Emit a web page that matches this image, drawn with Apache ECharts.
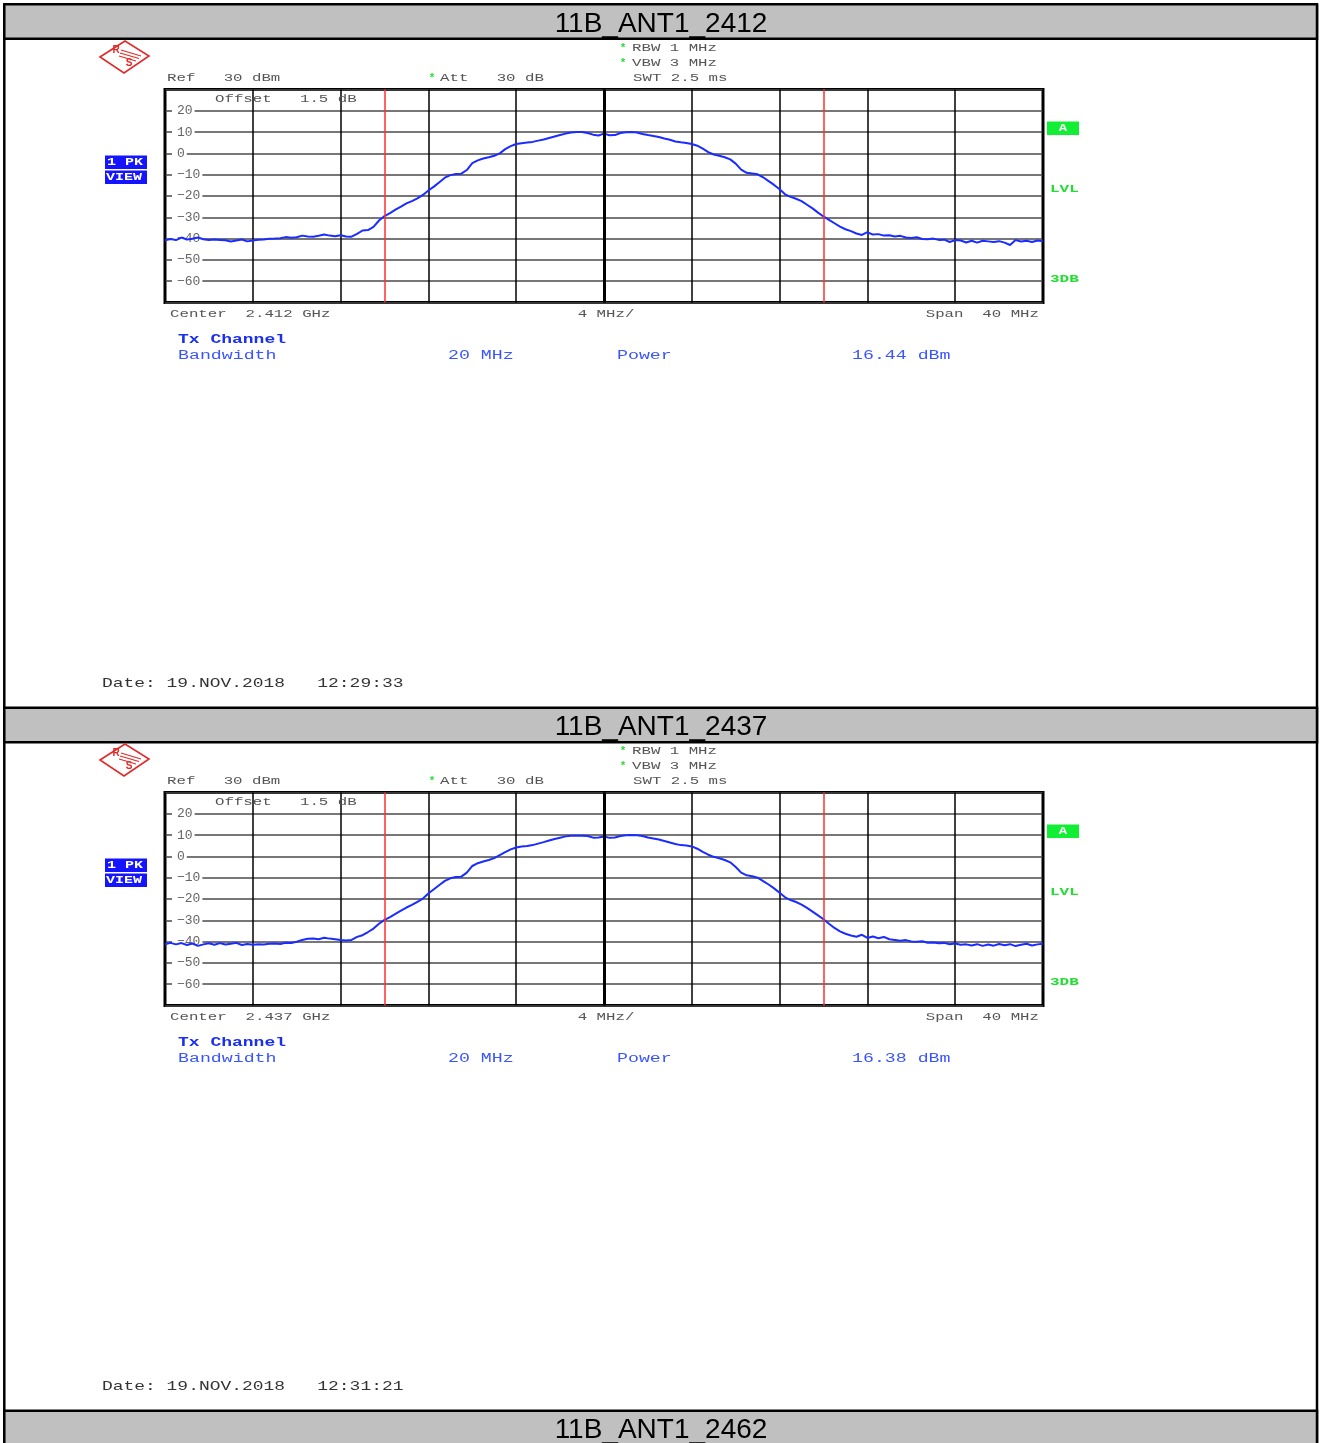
<!DOCTYPE html>
<html><head><meta charset="utf-8">
<script src="https://cdn.jsdelivr.net/npm/echarts/dist/echarts.min.js"></script>
<style>html,body{margin:0;padding:0;background:#fff}#c{width:1320px;height:1443px}</style>
</head><body><div id="c"></div><script>
// ---- data ----
const freqMHz = [-20,-19.75,-19.5,-19.25,-19,-18.75,-18.5,-18.25,-18,-17.75,-17.5,-17.25,-17,-16.75,-16.5,-16.25,-16,-15.75,-15.5,-15.25,-15,-14.75,-14.5,-14.25,-14,-13.75,-13.5,-13.25,-13,-12.75,-12.5,-12.25,-12,-11.75,-11.5,-11.25,-11,-10.75,-10.5,-10.25,-10,-9.75,-9.5,-9.25,-9,-8.75,-8.5,-8.25,-8,-7.75,-7.5,-7.25,-7,-6.75,-6.5,-6.25,-6,-5.75,-5.5,-5.25,-5,-4.75,-4.5,-4.25,-4,-3.75,-3.5,-3.25,-3,-2.75,-2.5,-2.25,-2,-1.75,-1.5,-1.25,-1,-0.75,-0.5,-0.25,0,0.25,0.5,0.75,1,1.25,1.5,1.75,2,2.25,2.5,2.75,3,3.25,3.5,3.75,4,4.25,4.5,4.75,5,5.25,5.5,5.75,6,6.25,6.5,6.75,7,7.25,7.5,7.75,8,8.25,8.5,8.75,9,9.25,9.5,9.75,10,10.25,10.5,10.75,11,11.25,11.5,11.75,12,12.25,12.5,12.75,13,13.25,13.5,13.75,14,14.25,14.5,14.75,15,15.25,15.5,15.75,16,16.25,16.5,16.75,17,17.25,17.5,17.75,18,18.25,18.5,18.75,19,19.25,19.5,19.75,20];

const trace2412 = [
-40.8,-40.2,-40.7,-39.5,-40.4,-40.1,-39.5,-40.3,-40.7,-40.4,
-40.6,-40.8,-41.4,-40.9,-40.4,-41.3,-40.9,-40.5,-40.4,-40.1,
-40.0,-39.8,-39.3,-39.6,-39.4,-38.6,-39.0,-39.1,-38.7,-38.1,
-38.6,-38.9,-38.4,-39.0,-39.1,-37.8,-36.2,-36.0,-34.5,-31.5,
-29.4,-28.0,-26.4,-25.0,-23.5,-22.4,-21.1,-19.5,-17.4,-15.6,
-13.5,-11.4,-10.2,-9.7,-9.5,-7.8,-4.6,-3.3,-2.4,-1.8,
-1.1,0.0,2.0,3.4,4.4,4.8,5.1,5.4,6.0,6.5,
7.2,7.9,8.6,9.3,9.8,10.0,10.0,9.6,8.8,8.4,
9.3,8.5,8.6,9.6,9.9,10.0,9.8,9.1,8.6,8.2,
7.7,7.0,6.4,5.6,5.2,4.9,4.4,3.6,2.2,0.6,
-0.5,-1.1,-1.8,-2.8,-4.8,-7.6,-9.1,-9.4,-9.8,-11.2,
-13.0,-14.8,-16.8,-19.2,-20.4,-21.3,-22.4,-24.1,-25.8,-27.8,
-29.6,-31.2,-32.8,-34.4,-35.6,-36.5,-37.6,-38.3,-37.0,-38.1,
-37.9,-38.6,-38.4,-39.0,-38.7,-39.5,-39.7,-39.4,-40.2,-40.3,
-40.0,-40.6,-40.5,-41.6,-40.7,-40.9,-41.8,-41.0,-41.9,-41.0,
-41.3,-41.6,-41.2,-41.9,-43.0,-40.7,-41.4,-41.0,-41.6,-40.9,
-41.3];

const trace2437 = [
-41.2,-40.6,-41.3,-40.7,-41.6,-40.9,-42.0,-41.3,-40.8,-41.5,
-40.7,-41.4,-41.0,-40.6,-41.6,-41.1,-41.5,-41.3,-41.4,-41.0,
-40.9,-41.1,-40.5,-40.7,-40.1,-39.2,-38.7,-38.5,-38.9,-38.2,
-38.6,-38.9,-39.3,-39.5,-39.2,-37.8,-37.0,-35.5,-33.9,-31.6,
-29.8,-28.5,-27.0,-25.5,-24.0,-22.8,-21.3,-19.8,-17.4,-15.4,
-13.4,-11.5,-10.3,-9.7,-9.5,-7.6,-4.5,-3.2,-2.4,-1.7,
-0.8,0.6,2.0,3.3,4.2,4.6,4.9,5.3,6.0,6.7,
7.5,8.2,8.8,9.4,9.7,9.7,9.7,9.6,8.8,8.9,
9.3,8.7,8.9,9.6,9.9,10.0,9.9,9.6,8.9,8.4,
7.9,7.2,6.5,5.8,5.3,5.1,4.7,3.6,2.1,0.8,
-0.2,-0.9,-1.7,-2.8,-5.0,-7.6,-8.9,-9.3,-10.0,-11.6,
-13.2,-15.0,-17.1,-19.2,-20.5,-21.4,-22.6,-24.2,-25.9,-27.7,
-29.5,-31.6,-33.6,-35.2,-36.3,-37.1,-37.7,-36.8,-38.3,-37.6,
-38.4,-37.8,-38.9,-39.2,-39.6,-39.3,-39.9,-40.1,-39.8,-40.5,
-40.4,-40.8,-40.6,-41.2,-40.9,-41.5,-41.3,-41.8,-41.2,-42.0,
-41.4,-41.9,-41.1,-41.7,-41.2,-42.1,-41.5,-41.0,-41.8,-41.3,
-41.0];

const titles = ['11B_ANT1_2412', '11B_ANT1_2437', '11B_ANT1_2462'];
const centerFreqsGHz = ['2.412', '2.437'];
const channelPowersDbm = ['16.44', '16.38'];
const sweepDates = ['19.NOV.2018   12:29:33', '19.NOV.2018   12:31:21'];
const traces = [trace2412, trace2437];
const freqRangeMHz = [-20, 20];
const freqStepMHz = 4;
const levelRangeDbm = [-70, 30];
const levelStepDb = 10;
const channelEdgesMHz = [-10, 10];
const centerLineMHz = 0;

// ---- layout ----
const PANEL_DY = 703;
const barTops = [4.3, 707.7, 1410.7];
const MONO = '"Liberation Mono", "Courier New", monospace';

function T(x, y, s, o) {
  o = o || {};
  const a = o.a || 'left';
  return {
    type: 'text', x: x, y: y, scaleX: o.sx == null ? 1.43 : o.sx, silent: true, z: 100,
    style: {
      text: s, fill: o.c || '#555',
      font: (o.b ? 'bold ' : '') + (o.fs || 11) + 'px ' + (o.ff || MONO),
      align: a, verticalAlign: 'middle', textAlign: a, textVerticalAlign: 'middle'
    }
  };
}
function R(x, y, w, h, fill, z) {
  return { type: 'rect', z: z || 90, silent: true, shape: { x: x, y: y, width: w, height: h }, style: { fill: fill } };
}
function L(x1, y1, x2, y2, c, w, z) {
  return { type: 'line', z: z || 95, silent: true, shape: { x1: x1, y1: y1, x2: x2, y2: y2 }, style: { stroke: c, lineWidth: w } };
}

const G = [];
barTops.forEach(function (t, i) {
  G.push({ type: 'rect', z: 50, silent: true, shape: { x: 4.3, y: t, width: 1312.7, height: 34.5 },
    style: { fill: '#c0c0c0', stroke: '#000', lineWidth: 2.5 } });
  G.push({ type: 'text', z: 51, x: 661, y: t + 20, silent: true,
    style: { text: titles[i], font: '28px "Liberation Sans", Arial, sans-serif', fill: '#000',
      align: 'center', verticalAlign: 'middle', textAlign: 'center', textVerticalAlign: 'middle' } });
});
G.push(L(4.3, 4, 4.3, 1443, '#000', 2.5, 49));
G.push(L(1317, 4, 1317, 1443, '#000', 2.5, 49));

const BLUE = '#3a55ff', DBLUE = '#1b30ee', GREEN = '#22dd33', RSRED = '#e02a2a';

[0, 1].forEach(function (p) {
  const d = p * PANEL_DY;
  // R&S logo
  G.push({ type: 'polygon', z: 90, silent: true,
    shape: { points: [[100, 57 + d], [125, 41 + d], [149, 56 + d], [124, 73 + d]] },
    style: { fill: 'none', stroke: RSRED, lineWidth: 1.6 } });
  G.push(L(121, 50 + d, 141, 56 + d, RSRED, 1.1));
  G.push(L(120, 53 + d, 139, 58.5 + d, RSRED, 1.1));
  G.push(L(119, 56 + d, 136, 61 + d, RSRED, 1.1));
  G.push(T(116, 50 + d, 'R', { c: RSRED, b: true, fs: 10, sx: 1, ff: 'Arial, "Liberation Sans", sans-serif', a: 'center' }));
  G.push(T(129, 63 + d, 'S', { c: RSRED, b: true, fs: 10, sx: 1, ff: 'Arial, "Liberation Sans", sans-serif', a: 'center' }));

  // header settings
  G.push(T(623, 48.5 + d, '*', { c: GREEN, b: true, fs: 11, sx: 1, a: 'center' }));
  G.push(T(632, 48 + d, 'RBW 1 MHz'));
  G.push(T(623, 63.5 + d, '*', { c: GREEN, b: true, fs: 11, sx: 1, a: 'center' }));
  G.push(T(632, 63 + d, 'VBW 3 MHz'));
  G.push(T(633, 78 + d, 'SWT 2.5 ms'));
  G.push(T(167, 78 + d, 'Ref   30 dBm'));
  G.push(T(432, 78.5 + d, '*', { c: GREEN, b: true, fs: 11, sx: 1, a: 'center' }));
  G.push(T(440, 78 + d, 'Att   30 dB'));
  G.push(T(215, 99 + d, 'Offset   1.5 dB'));

  // trace / view boxes
  G.push(R(105, 155.5 + d, 42, 13.5, '#1414ff'));
  G.push(T(107, 162.5 + d, '1 PK', { c: '#fff', b: true, fs: 10, sx: 1.5 }));
  G.push(R(105, 170.5 + d, 42, 13.5, '#1414ff'));
  G.push(T(106, 177.5 + d, 'VIEW', { c: '#fff', b: true, fs: 10, sx: 1.5 }));

  // right side markers
  G.push(R(1047, 121.5 + d, 32, 13.5, '#11ee33'));
  G.push(T(1063, 128.5 + d, 'A', { c: '#fff', b: true, fs: 10, sx: 1.4, a: 'center' }));
  G.push(T(1050, 189.5 + d, 'LVL', { c: GREEN, b: true, fs: 10, sx: 1.6 }));
  G.push(T(1050, 279.5 + d, '3DB', { c: GREEN, b: true, fs: 10, sx: 1.6 }));

  // footer of the plot
  G.push(T(170, 314.5 + d, 'Center  ' + centerFreqsGHz[p] + ' GHz'));
  G.push(T(606, 314.5 + d, freqStepMHz + ' MHz/', { a: 'center' }));
  G.push(T(1039, 314.5 + d, 'Span  ' + (freqRangeMHz[1] - freqRangeMHz[0]) + ' MHz', { a: 'right' }));

  G.push(T(178, 339.5 + d, 'Tx Channel', { c: DBLUE, b: true, fs: 12, sx: 1.5 }));
  G.push(T(178, 355.5 + d, 'Bandwidth', { c: BLUE, fs: 12, sx: 1.52 }));
  G.push(T(448, 355.5 + d, (channelEdgesMHz[1] - channelEdgesMHz[0]) + ' MHz', { c: BLUE, fs: 12, sx: 1.52 }));
  G.push(T(617, 355.5 + d, 'Power', { c: BLUE, fs: 12, sx: 1.52 }));
  G.push(T(852, 355.5 + d, channelPowersDbm[p] + ' dBm', { c: BLUE, fs: 12, sx: 1.52 }));

  G.push(T(102, 683.5 + d, 'Date: ' + sweepDates[p], { c: '#333', fs: 13, sx: 1.38 }));
});

const grids = [0, 1].map(function (p) {
  return { left: 165, top: 89.5 + p * PANEL_DY, width: 878, height: 213, show: true,
    borderColor: '#000', borderWidth: 3, backgroundColor: 'transparent', containLabel: false, outerBoundsMode: 'none' };
});
const xAxes = [0, 1].map(function (p) {
  return { type: 'value', gridIndex: p, min: freqRangeMHz[0], max: freqRangeMHz[1], interval: freqStepMHz,
    axisLine: { show: false }, axisTick: { show: false }, axisLabel: { show: false },
    splitLine: { show: true, lineStyle: { color: '#000', width: 1.5, type: 'solid' } } };
});
const yAxes = [0, 1].map(function (p) {
  return { type: 'value', gridIndex: p, min: levelRangeDbm[0], max: levelRangeDbm[1], interval: levelStepDb,
    axisLine: { show: false }, axisTick: { show: false },
    axisLabel: { show: true, inside: true, margin: 7, showMinLabel: false, showMaxLabel: false,
      color: '#666', fontFamily: MONO, fontSize: 13, backgroundColor: '#fff', padding: [0, 2, 0, 5],
      formatter: function (v) { return v < 0 ? '\u2212' + (-v) : String(v); } },
    splitLine: { show: true, lineStyle: { color: '#4a4a4a', width: 1.5, type: 'solid' } } };
});
const series = [0, 1].map(function (p) {
  return {
    type: 'line', xAxisIndex: p, yAxisIndex: p, showSymbol: false, symbol: 'none', silent: true,
    data: freqMHz.map(function (f, i) { return [f, traces[p][i]]; }),
    lineStyle: { color: '#1a2cff', width: 2 }, z: 3,
    markLine: {
      silent: true, symbol: ['none', 'none'], label: { show: false },
      lineStyle: { type: 'solid' },
      data: [{ xAxis: centerLineMHz, lineStyle: { color: '#000', width: 3, type: 'solid' } }]
        .concat(channelEdgesMHz.map(function (e) {
          return { xAxis: e, lineStyle: { color: '#ff3030', width: 1.5, type: 'solid' } };
        }))
    }
  };
});

const chart = echarts.init(document.getElementById('c'), null, { renderer: 'canvas' });
chart.setOption({
  animation: false,
  backgroundColor: '#fff',
  grid: grids, xAxis: xAxes, yAxis: yAxes, series: series,
  graphic: { elements: G }
});
</script></body></html>
